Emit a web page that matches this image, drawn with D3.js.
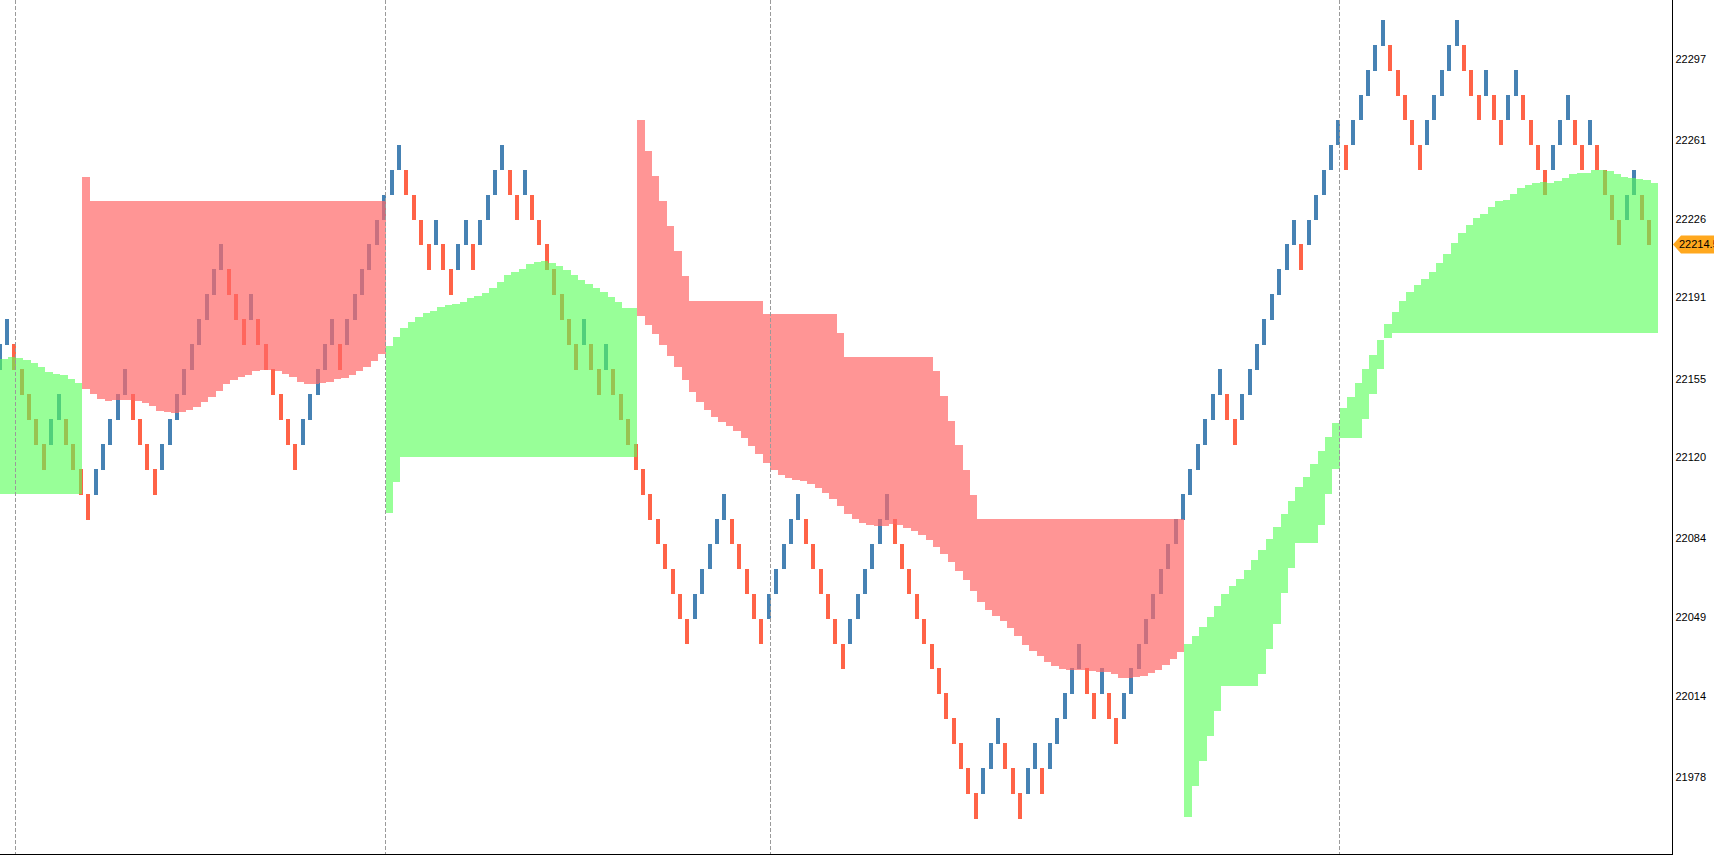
<!DOCTYPE html>
<html><head><meta charset="utf-8">
<script src="https://cdn.jsdelivr.net/npm/d3@7"></script>
<style>html,body{margin:0;padding:0;background:#fff;overflow:hidden}</style>
</head><body><svg id="c" width="1714" height="862"></svg>
<script>
// ---------------- DATA ----------------
const boxSize = 11.077;          // renko box size (price units)
const renkoBase = 21959.74;      // price of level 0 (low edge)
const firstPrevLevel = 17;       // level of the brick before the first visible one
// low edge level of every renko brick (brick spans [level, level+1] boxes above base)
const brickLevel = [
 18,19,18,17,16,15,14,15,16,15,
 14,13,12,13,14,15,16,17,16,15,
 14,13,14,15,16,17,18,19,20,21,
 22,21,20,19,20,19,18,17,16,15,
 14,15,16,17,18,19,18,19,20,21,
 22,23,24,25,26,25,24,23,22,23,
 22,21,22,23,22,23,24,25,26,25,
 24,25,24,23,22,21,20,19,18,19,
 18,17,18,17,16,15,14,13,12,11,
 10,9,8,7,8,9,10,11,12,11,
 10,9,8,7,8,9,10,11,12,11,
 10,9,8,7,6,7,8,9,10,11,
 12,11,10,9,8,7,6,5,4,3,
 2,1,0,1,2,3,2,1,0,1,
 2,1,2,3,4,5,6,5,4,5,
 4,3,4,5,6,7,8,9,10,11,
 12,13,14,15,16,17,16,15,16,17,
 18,19,20,21,22,23,22,23,24,25,
 26,27,26,27,28,29,30,31,30,29,
 28,27,26,27,28,29,30,31,30,29,
 28,29,28,27,28,29,28,27,26,25,
 26,27,28,27,26,27,26,25,24,23,
 24,25,24,23
];
// moving-average edge of the trend band, per brick
const bandMA = [
 22163.7,22164.5,22164.1,22163.2,22161.9,22160.1,22157.9,22157.0,22156.5,22154.8,22153.0,
 22150.3,22148.1,22145.9,22145.0,22145.4,22145.4,22145.4,22145.0,22144.1,22142.8,
 22140.6,22140.1,22139.7,22140.1,22141.0,22142.3,22144.6,22146.8,22149.4,22152.5,
 22154.3,22155.7,22156.5,22158.3,22158.8,22158.8,22158.3,22157.0,22155.7,22153.4,
 22152.5,22152.5,22153.0,22153.4,22154.8,22155.2,22156.5,22158.3,22160.1,22162.8,22165.9,
 22169.4,22173.4,22177.4,22180.1,22182.3,22184.1,22185.0,22186.7,22187.6,22188.1,
 22189.0,22190.7,22191.6,22193.0,22195.2,22197.9,22201.0,22202.3,22203.6,22205.8,
 22206.7,22207.2,22206.3,22205.0,22203.2,22201.0,22198.7,22197.0,22195.2,22193.4,22191.2,22189.0,22186.3,22186.3,
 22182.8,22178.8,22174.8,22169.9,22165.0,22160.1,22154.3,22149.0,22144.6,22141.0,
 22137.9,22135.7,22133.9,22131.7,22128.6,22125.0,22121.5,22117.5,22114.3,22112.1,
 22110.8,22109.9,22109.5,22108.1,22106.4,22104.1,22101.5,22098.4,22094.8,22092.6,
 22090.8,22089.9,22089.5,22089.5,22090.4,22089.9,22088.6,22087.3,22085.5,22083.3,
 22080.2,22077.0,22073.5,22069.5,22065.5,22060.6,22055.7,22052.2,22049.5,22047.3,
 22044.2,22040.6,22036.6,22034.0,22031.7,22029.1,22027.3,22026.0,22025.5,22025.5,
 22025.5,22025.1,22024.6,22024.6,22023.7,22022.0,22022.0,22022.4,22022.9,22024.2,22025.5,22027.7,22030.4,22033.5,
 22037.1,22040.6,22044.6,22049.1,22054.0,22059.3,22062.8,22065.9,22069.9,22074.4,
 22078.8,22083.7,22089.0,22094.8,22100.6,22106.8,22111.2,22117.0,22122.8,22129.0,
 22135.2,22141.9,22146.8,22153.0,22159.2,22165.4,22172.1,22179.2,22184.5,22189.4,
 22193.4,22196.5,22199.2,22202.3,22206.3,22210.3,22215.2,22219.6,22223.2,22226.3,
 22228.0,22231.2,22233.8,22234.3,22236.9,22239.6,22240.9,22241.8,22242.3,22241.8,
 22242.7,22244.0,22245.8,22246.3,22246.3,22247.6,22247.6,22247.2,22245.8,22244.5,
 22244.0,22243.6,22243.2,22241.8
];
// trailing-stop edge of the trend band, per brick
const bandStop = [
 22103.7,22103.7,22103.7,22103.7,22103.7,22103.7,22103.7,22103.7,22103.7,22103.7,22103.7,
 22244.5,
 22233.8,22233.8,22233.8,22233.8,22233.8,22233.8,22233.8,22233.8,22233.8,22233.8,
 22233.8,22233.8,22233.8,22233.8,22233.8,22233.8,22233.8,22233.8,22233.8,22233.8,
 22233.8,22233.8,22233.8,22233.8,22233.8,22233.8,22233.8,22233.8,22233.8,22233.8,
 22233.8,22233.8,22233.8,22233.8,22233.8,22233.8,22233.8,22233.8,22233.8,22233.8,
 22095.3,22109.0,
 22120.1,22120.1,22120.1,22120.1,22120.1,22120.1,22120.1,22120.1,22120.1,22120.1,
 22120.1,22120.1,22120.1,22120.1,22120.1,22120.1,22120.1,22120.1,22120.1,22120.1,
 22120.1,22120.1,22120.1,22120.1,22120.1,22120.1,22120.1,22120.1,22120.1,22120.1,
 22120.1,22120.1,
 22269.8,22256.0,22244.9,22233.8,22222.7,22211.6,22200.5,
 22189.4,22189.4,22189.4,22189.4,22189.4,22189.4,22189.4,22189.4,22189.4,22189.4,
 22183.6,22183.6,22183.6,22183.6,22183.6,22183.6,22183.6,22183.6,22183.6,22183.6,
 22175.2,
 22164.5,22164.5,22164.5,22164.5,22164.5,22164.5,22164.5,22164.5,22164.5,22164.5,22164.5,22164.5,
 22158.3,22147.2,22136.1,22125.5,22114.3,22103.2,
 22092.6,22092.6,22092.6,22092.6,22092.6,22092.6,22092.6,22092.6,22092.6,22092.6,
 22092.6,22092.6,22092.6,22092.6,22092.6,22092.6,22092.6,22092.6,22092.6,22092.6,
 22092.6,22092.6,22092.6,22092.6,22092.6,22092.6,22092.6,22092.6,
 21960.2,21974.0,21985.1,21996.2,22007.3,
 22018.4,22018.4,22018.4,22018.4,22018.4,
 22023.7,22034.9,22046.0,22059.7,22070.8,
 22081.9,22081.9,22081.9,
 22089.9,22103.7,22114.8,
 22128.6,22128.6,22128.6,
 22137.0,22148.1,22159.2,
 22173.0,
 22175.2,22175.2,22175.2,22175.2,22175.2,22175.2,22175.2,22175.2,22175.2,
 22175.2,22175.2,22175.2,22175.2,22175.2,22175.2,22175.2,22175.2,22175.2,22175.2,
 22175.2,22175.2,22175.2,22175.2,22175.2,22175.2,22175.2,22175.2,22175.2,22175.2,
 22175.2,22175.2,22175.2,22175.2,22175.2,22175.2,22175.2
];
const trendStart = [0, 11, 52, 86, 160];
const trendDir = ["up", "down", "up", "down", "up"];
const yTicks = [22297, 22261, 22226, 22191, 22155, 22120, 22084, 22049, 22014, 21978];
const separatorBars = [2, 52, 104, 181];

// ---------------- DRAW ----------------
const W = 1714, H = 862, plotR = 1672, plotB = 854;
const svg = d3.select("#c");
const n = brickLevel.length;
const x = d3.scaleLinear().domain([0, n - 1]).range([-0.5, 1649.0]);
const step = x(1) - x(0);
const y = d3.scaleLinear().domain([21943.8, 22323.1]).range([plotB, 0]);

svg.append("defs").append("clipPath").attr("id", "plot")
  .append("rect").attr("x", 0).attr("y", 0).attr("width", plotR).attr("height", plotB);
const g = svg.append("g").attr("clip-path", "url(#plot)");

const bricks = brickLevel.map((L, i) => ({
  i, low: renkoBase + L * boxSize, high: renkoBase + (L + 1) * boxSize,
  up: L > (i ? brickLevel[i - 1] : firstPrevLevel)
}));

g.append("g").selectAll("rect").data(bricks).join("rect")
  .attr("x", d => x(d.i) - 2).attr("width", 4)
  .attr("y", d => y(d.high)).attr("height", d => y(d.low) - y(d.high) + 0.7)
  .attr("fill", d => d.up ? "#4682B4" : "#FF6347")
  .attr("shape-rendering", "crispEdges");

// trend bands as step areas, one per trend segment
const segs = trendStart.map((s, k) => {
  const e = k + 1 < trendStart.length ? trendStart[k + 1] - 1 : n - 1;
  const pts = [];
  for (let i = s; i <= e; i++) {
    pts.push({ x: i === 0 ? 0 : x(i) + 1.5, lo: Math.min(bandMA[i], bandStop[i]), hi: Math.max(bandMA[i], bandStop[i]) });
  }
  pts.push({ x: x(e) + 1.5 + step, lo: pts[pts.length - 1].lo, hi: pts[pts.length - 1].hi });
  return { dir: trendDir[k], pts };
});
const area = d3.area().x(d => d.x).y0(d => y(d.lo)).y1(d => y(d.hi)).curve(d3.curveStepAfter);
g.append("g").selectAll("path").data(segs).join("path")
  .attr("d", d => area(d.pts))
  .attr("fill", d => d.dir === "up" ? "rgb(88,255,88)" : "rgb(255,104,104)")
  .attr("fill-opacity", d => d.dir === "up" ? 0.615 : 0.7)
  .attr("shape-rendering", "crispEdges");

// period separators
g.append("g").selectAll("line").data(separatorBars).join("line")
  .attr("x1", d => Math.floor(x(d) + 1.5) + 0.5).attr("x2", d => Math.floor(x(d) + 1.5) + 0.5)
  .attr("y1", 0).attr("y2", plotB)
  .attr("stroke", "#9a9a9a").attr("stroke-width", 1).attr("stroke-dasharray", "4,2");

// price axis
const axis = d3.axisRight(y).tickValues(yTicks).tickSize(0).tickPadding(3).tickFormat(d3.format("d"));
const ag = svg.append("g").attr("transform", `translate(${plotR + 0.5},0)`).call(axis);
ag.select(".domain").remove();
ag.selectAll("text").attr("font-family", "'Liberation Sans', Arial, sans-serif")
  .attr("font-size", 11).attr("fill", "#000");

svg.append("line").attr("x1", plotR + 0.5).attr("x2", plotR + 0.5).attr("y1", 0).attr("y2", plotB + 1)
  .attr("stroke", "#000").attr("stroke-width", 1);
svg.append("line").attr("x1", 0).attr("x2", plotR + 1).attr("y1", plotB + 0.5).attr("y2", plotB + 0.5)
  .attr("stroke", "#000").attr("stroke-width", 1);

// last price label
const last = bricks[n - 1];
const lastClose = last.up ? last.high : last.low;
const yc = y(lastClose);
svg.append("path")
  .attr("d", `M${plotR + 1},${yc} L${plotR + 9},${yc - 9} L${W},${yc - 9} L${W},${yc + 9} L${plotR + 9},${yc + 9} Z`)
  .attr("fill", "rgb(255,168,30)");
svg.append("text").attr("x", plotR + 7).attr("y", yc).attr("dy", "0.35em")
  .attr("font-family", "'Liberation Sans', Arial, sans-serif").attr("font-size", 11).attr("fill", "#000")
  .text(d3.format(".1f")(lastClose));
</script></body></html>
